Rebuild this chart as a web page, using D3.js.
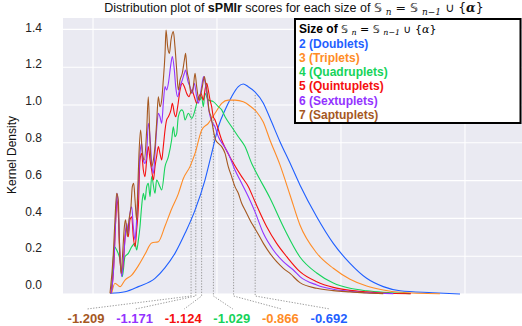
<!DOCTYPE html>
<html>
<head>
<meta charset="utf-8">
<script src="https://cdn.jsdelivr.net/npm/d3@7"></script>
<style>
  html, body { margin: 0; padding: 0; background: #ffffff; }
  svg { display: block; font-family: "Liberation Sans", Arial, sans-serif; }
</style>
</head>
<body>
<svg id="chart" width="522" height="326"></svg>
<script>
// ---------------- DATA ----------------
const seriesKeys = [2, 3, 4, 5, 6, 7];
const seriesLabels = ["2 (Doublets)", "3 (Triplets)", "4 (Quadruplets)", "5 (Quintuplets)", "6 (Sextuplets)", "7 (Saptuplets)"];
const seriesColors = ["#1f5fff", "#ff8c26", "#16d35a", "#f50f0f", "#9333ff", "#a5581f"];
const meanValues = [-0.692, -0.866, -1.029, -1.124, -1.171, -1.209];
const meanDensity = [1.053, 1.026, 0.938, 0.99, 0.99, 1.0];
const yTicks = [0.0, 0.2, 0.4, 0.6, 0.8, 1.0, 1.2, 1.4];
const xGrid = [-2, -1, 0, 1];

const doublets = [[-1.863,0.004],[-1.742,0.012],[-1.634,0.039],[-1.5,0.083],[-1.419,0.14],[-1.339,0.215],[-1.258,0.321],[-1.177,0.444],[-1.097,0.603],[-1.043,0.744],[-0.989,0.885],[-0.935,0.974],[-0.882,1.044],[-0.828,1.097],[-0.788,1.111],[-0.748,1.097],[-0.694,1.070],[-0.627,1.011],[-0.573,0.931],[-0.492,0.806],[-0.411,0.693],[-0.331,0.577],[-0.196,0.409],[-0.062,0.268],[0.073,0.162],[0.207,0.083],[0.341,0.039],[0.476,0.017],[0.742,0.007],[0.96,0.0]];

const triplets = [[-1.849,0.004],[-1.823,0.057],[-1.782,0.039],[-1.742,0.074],[-1.688,0.100],[-1.634,0.150],[-1.581,0.210],[-1.527,0.270],[-1.473,0.277],[-1.419,0.360],[-1.366,0.450],[-1.312,0.530],[-1.272,0.610],[-1.218,0.674],[-1.177,0.744],[-1.123,0.868],[-1.070,0.903],[-1.016,0.956],[-0.962,1.009],[-0.909,1.026],[-0.855,1.026],[-0.788,1.017],[-0.734,0.995],[-0.680,0.963],[-0.627,0.910],[-0.573,0.815],[-0.492,0.683],[-0.411,0.524],[-0.331,0.365],[-0.196,0.217],[-0.062,0.136],[0.073,0.078],[0.207,0.042],[0.341,0.021],[0.476,0.009],[0.798,0.001]];

const quadruplets = [[-1.849,0.021],[-1.828,0.250],[-1.809,0.233],[-1.782,0.180],[-1.763,0.092],[-1.742,0.198],[-1.715,0.215],[-1.688,0.250],[-1.661,0.268],[-1.648,0.233],[-1.634,0.286],[-1.621,0.356],[-1.608,0.462],[-1.594,0.533],[-1.581,0.497],[-1.567,0.568],[-1.554,0.586],[-1.540,0.515],[-1.527,0.621],[-1.5,0.533],[-1.487,0.603],[-1.460,0.568],[-1.446,0.550],[-1.419,0.674],[-1.392,0.727],[-1.366,0.815],[-1.352,0.885],[-1.339,0.832],[-1.325,0.850],[-1.312,0.938],[-1.285,0.974],[-1.272,0.965],[-1.258,0.921],[-1.231,0.956],[-1.204,0.929],[-1.177,0.974],[-1.164,1.009],[-1.151,1.044],[-1.137,1.026],[-1.124,1.044],[-1.110,0.991],[-1.097,1.062],[-1.070,1.026],[-1.030,1.018],[-0.989,0.991],[-0.962,0.974],[-0.935,0.938],[-0.882,0.885],[-0.828,0.832],[-0.774,0.780],[-0.720,0.691],[-0.694,0.656],[-0.573,0.508],[-0.452,0.339],[-0.331,0.196],[-0.196,0.111],[-0.062,0.058],[0.073,0.030],[0.207,0.017],[0.341,0.009],[0.556,0.002]];

const quintuplets = [[-1.855,0.004],[-1.833,0.145],[-1.817,0.392],[-1.806,0.497],[-1.796,0.427],[-1.785,0.215],[-1.769,0.109],[-1.753,0.180],[-1.742,0.303],[-1.728,0.356],[-1.715,0.303],[-1.702,0.392],[-1.688,0.409],[-1.675,0.303],[-1.661,0.250],[-1.648,0.339],[-1.634,0.462],[-1.621,0.709],[-1.608,0.744],[-1.594,0.656],[-1.581,0.621],[-1.567,0.709],[-1.554,0.780],[-1.540,0.709],[-1.527,0.656],[-1.513,0.603],[-1.5,0.674],[-1.487,0.727],[-1.473,0.780],[-1.460,0.744],[-1.446,0.709],[-1.433,0.780],[-1.419,0.868],[-1.406,0.921],[-1.392,0.938],[-1.371,0.974],[-1.360,1.009],[-1.344,0.956],[-1.333,0.938],[-1.317,0.991],[-1.298,1.079],[-1.280,1.115],[-1.263,1.097],[-1.245,1.062],[-1.226,1.044],[-1.204,1.079],[-1.183,1.044],[-1.164,1.009],[-1.145,1.044],[-1.129,1.062],[-1.110,1.026],[-1.097,1.079],[-1.083,1.115],[-1.070,1.079],[-1.056,1.026],[-1.043,0.991],[-1.030,0.938],[-1.016,0.921],[-0.962,0.815],[-0.882,0.709],[-0.801,0.621],[-0.747,0.568],[-0.694,0.489],[-0.599,0.356],[-0.519,0.268],[-0.438,0.198],[-0.331,0.118],[-0.196,0.065],[-0.062,0.035],[0.073,0.019],[0.207,0.011],[0.341,0.005],[0.565,0.001]];

const sextuplets = [[-1.855,0.004],[-1.836,0.109],[-1.817,0.392],[-1.806,0.533],[-1.796,0.462],[-1.785,0.250],[-1.769,0.092],[-1.755,0.180],[-1.742,0.286],[-1.728,0.374],[-1.715,0.321],[-1.702,0.427],[-1.688,0.462],[-1.675,0.356],[-1.661,0.286],[-1.648,0.392],[-1.634,0.568],[-1.621,0.744],[-1.608,0.797],[-1.594,0.709],[-1.581,0.691],[-1.567,0.744],[-1.554,0.903],[-1.540,0.832],[-1.527,0.691],[-1.513,0.638],[-1.5,0.744],[-1.487,0.868],[-1.473,0.956],[-1.460,0.938],[-1.446,0.903],[-1.433,1.009],[-1.419,1.097],[-1.406,1.079],[-1.392,1.115],[-1.371,1.220],[-1.360,1.256],[-1.344,1.185],[-1.333,1.097],[-1.317,1.044],[-1.298,1.097],[-1.280,1.132],[-1.263,1.168],[-1.253,1.185],[-1.237,1.132],[-1.218,1.097],[-1.199,1.062],[-1.183,1.115],[-1.164,1.044],[-1.151,1.009],[-1.137,1.044],[-1.124,1.097],[-1.108,1.150],[-1.097,1.123],[-1.083,1.062],[-1.070,0.991],[-1.048,0.921],[-1.016,0.885],[-0.989,0.832],[-0.949,0.788],[-0.909,0.744],[-0.855,0.656],[-0.801,0.586],[-0.747,0.515],[-0.694,0.436],[-0.626,0.321],[-0.546,0.233],[-0.465,0.171],[-0.384,0.127],[-0.331,0.092],[-0.196,0.048],[-0.062,0.025],[0.073,0.014],[0.207,0.007],[0.422,0.002]];

const saptuplets = [[-1.863,0.004],[-1.836,0.215],[-1.823,0.392],[-1.809,0.533],[-1.796,0.497],[-1.788,0.303],[-1.774,0.109],[-1.761,0.215],[-1.747,0.356],[-1.737,0.392],[-1.723,0.303],[-1.710,0.392],[-1.694,0.462],[-1.683,0.568],[-1.672,0.586],[-1.661,0.497],[-1.648,0.392],[-1.640,0.533],[-1.629,0.744],[-1.616,0.868],[-1.602,0.744],[-1.586,0.709],[-1.567,0.868],[-1.554,1.044],[-1.540,0.797],[-1.527,0.674],[-1.513,0.709],[-1.5,0.780],[-1.487,0.903],[-1.473,1.044],[-1.460,0.991],[-1.446,1.026],[-1.433,1.132],[-1.419,1.273],[-1.411,1.397],[-1.398,1.309],[-1.384,1.273],[-1.371,1.344],[-1.352,1.388],[-1.339,1.309],[-1.325,1.185],[-1.312,1.079],[-1.298,1.132],[-1.280,1.168],[-1.263,1.238],[-1.253,1.273],[-1.242,1.185],[-1.226,1.132],[-1.210,1.062],[-1.191,1.097],[-1.177,1.168],[-1.164,1.097],[-1.145,1.026],[-1.129,1.062],[-1.118,1.097],[-1.102,1.150],[-1.091,1.115],[-1.075,1.044],[-1.065,0.974],[-1.048,0.938],[-1.030,0.868],[-1.011,0.815],[-0.989,0.797],[-0.962,0.780],[-0.935,0.744],[-0.909,0.674],[-0.882,0.621],[-0.855,0.568],[-0.828,0.533],[-0.801,0.480],[-0.774,0.444],[-0.747,0.409],[-0.720,0.374],[-0.694,0.347],[-0.626,0.268],[-0.573,0.215],[-0.519,0.171],[-0.465,0.136],[-0.411,0.109],[-0.331,0.060],[-0.196,0.030],[-0.062,0.018],[0.073,0.011],[0.207,0.005],[0.341,0.002]];

const seriesData = [doublets, triplets, quadruplets, quintuplets, sextuplets, saptuplets];

// ---------------- LAYOUT ----------------
const W = 522, H = 326;
const plot = { left: 63, right: 522, top: 18, bottom: 294 };

const svg = d3.select("#chart");
const x = d3.scaleLinear().domain([-2.242, 1.46]).range([plot.left, plot.right]);
const y = d3.scaleLinear().domain([0, 1.4]).range([plot.bottom, 29.4]);
const yLabel = d3.scaleLinear().domain([0, 1.4]).range([285, 27.5]);

// background
svg.append("rect").attr("x", plot.left).attr("y", plot.top)
  .attr("width", plot.right - plot.left).attr("height", plot.bottom - plot.top)
  .attr("fill", "#eaeaf2");

// grid
const grid = svg.append("g").attr("stroke", "#ffffff").attr("stroke-width", 1.1);
grid.selectAll("line.h").data(yTicks).join("line").attr("class", "h")
  .attr("x1", plot.left).attr("x2", plot.right)
  .attr("y1", d => y(d)).attr("y2", d => y(d));
grid.selectAll("line.v").data(xGrid).join("line").attr("class", "v")
  .attr("x1", d => x(d)).attr("x2", d => x(d))
  .attr("y1", plot.top).attr("y2", plot.bottom);

// y tick labels
svg.append("g").selectAll("text").data(yTicks).join("text")
  .attr("x", 42).attr("y", d => yLabel(d)).attr("dy", "0.35em")
  .attr("text-anchor", "end").attr("font-size", 12).attr("fill", "#222")
  .text(d => d3.format(".1f")(d));

// y axis title
svg.append("text").attr("transform", "translate(16,155) rotate(-90)")
  .attr("text-anchor", "middle").attr("font-size", 12).attr("fill", "#111")
  .text("Kernel Density");

// mean indicator lines (dotted)
const order = d3.range(meanValues.length).sort((a, b) => meanValues[a] - meanValues[b]);
const labelX = d3.scalePoint().domain(order).range([86, 329]);
const guides = svg.append("g").attr("fill", "none").attr("stroke", "#9a9a9a")
  .attr("stroke-width", 1).attr("stroke-dasharray", "1.3,1.5");
seriesKeys.forEach((k, i) => {
  const mx = x(meanValues[i]);
  guides.append("path").attr("d", d3.line()([[mx, y(meanDensity[i])], [mx, plot.bottom + 2], [labelX(i) + 1, 309]]));
});

// curves
const line = d3.line().x(d => x(d[0])).y(d => y(d[1])).curve(d3.curveMonotoneX);
svg.append("g").selectAll("path").data(seriesData).join("path")
  .attr("d", line).attr("fill", "none")
  .attr("stroke", (d, i) => seriesColors[i]).attr("stroke-width", 1.1)
  .attr("stroke-linejoin", "round");

// mean value labels
svg.append("g").selectAll("text").data(order).join("text")
  .attr("x", i => labelX(i)).attr("y", 322.5).attr("text-anchor", "middle")
  .attr("font-size", 13).attr("font-weight", "bold")
  .attr("fill", i => seriesColors[i])
  .text(i => d3.format(".3f")(meanValues[i]).replace("\u2212", "-"));

// title
const title = svg.append("text").attr("x", 294).attr("y", 12).attr("text-anchor", "middle")
  .attr("font-size", 12.5).attr("fill", "#111");
function addMath(t, size, shift, boldAlpha) {
  t.append("tspan").attr("font-family", "DejaVu Sans").text("𝕊 ");
  t.append("tspan").attr("font-family", "DejaVu Serif").attr("font-style", "italic").attr("font-size", size * 0.72).attr("dy", shift).text("n");
  t.append("tspan").attr("dy", -shift).attr("font-family", "DejaVu Sans").text(" = 𝕊 ");
  t.append("tspan").attr("font-family", "DejaVu Serif").attr("font-style", "italic").attr("font-size", size * 0.72).attr("dy", shift).text("n\u22121");
  t.append("tspan").attr("dy", -shift).attr("font-family", "DejaVu Sans").text(" \u222A {");
  t.append("tspan").attr("font-family", "DejaVu Serif").attr("font-style", "italic")
    .attr("font-weight", boldAlpha ? "bold" : "normal").text("\u03B1");
  t.append("tspan").attr("font-family", "DejaVu Sans").text("}");
}
title.append("tspan").text("Distribution plot of ");
title.append("tspan").attr("font-weight", "bold").text("sPMIr");
title.append("tspan").text(" scores for each size of ");
addMath(title, 12.5, 3, true);

// legend
const lg = svg.append("g");
lg.append("rect").attr("x", 295).attr("y", 19).attr("width", 225.5).attr("height", 104)
  .attr("fill", "#ffffff").attr("stroke", "#000").attr("stroke-width", 2);
const lt = lg.append("text").attr("x", 299).attr("y", 33).attr("font-size", 12).attr("fill", "#000");
lt.append("tspan").attr("font-weight", "bold").text("Size of  ");
const lm = lt.append("tspan").attr("font-size", 11);
addMath(lm, 11, 2, false);
lg.selectAll("text.item").data(seriesLabels).join("text").attr("class", "item")
  .attr("x", 299).attr("y", (d, i) => 47.5 + i * 14.25)
  .attr("font-size", 12).attr("font-weight", "bold")
  .attr("fill", (d, i) => seriesColors[i]).text(d => d);
</script>
</body>
</html>
